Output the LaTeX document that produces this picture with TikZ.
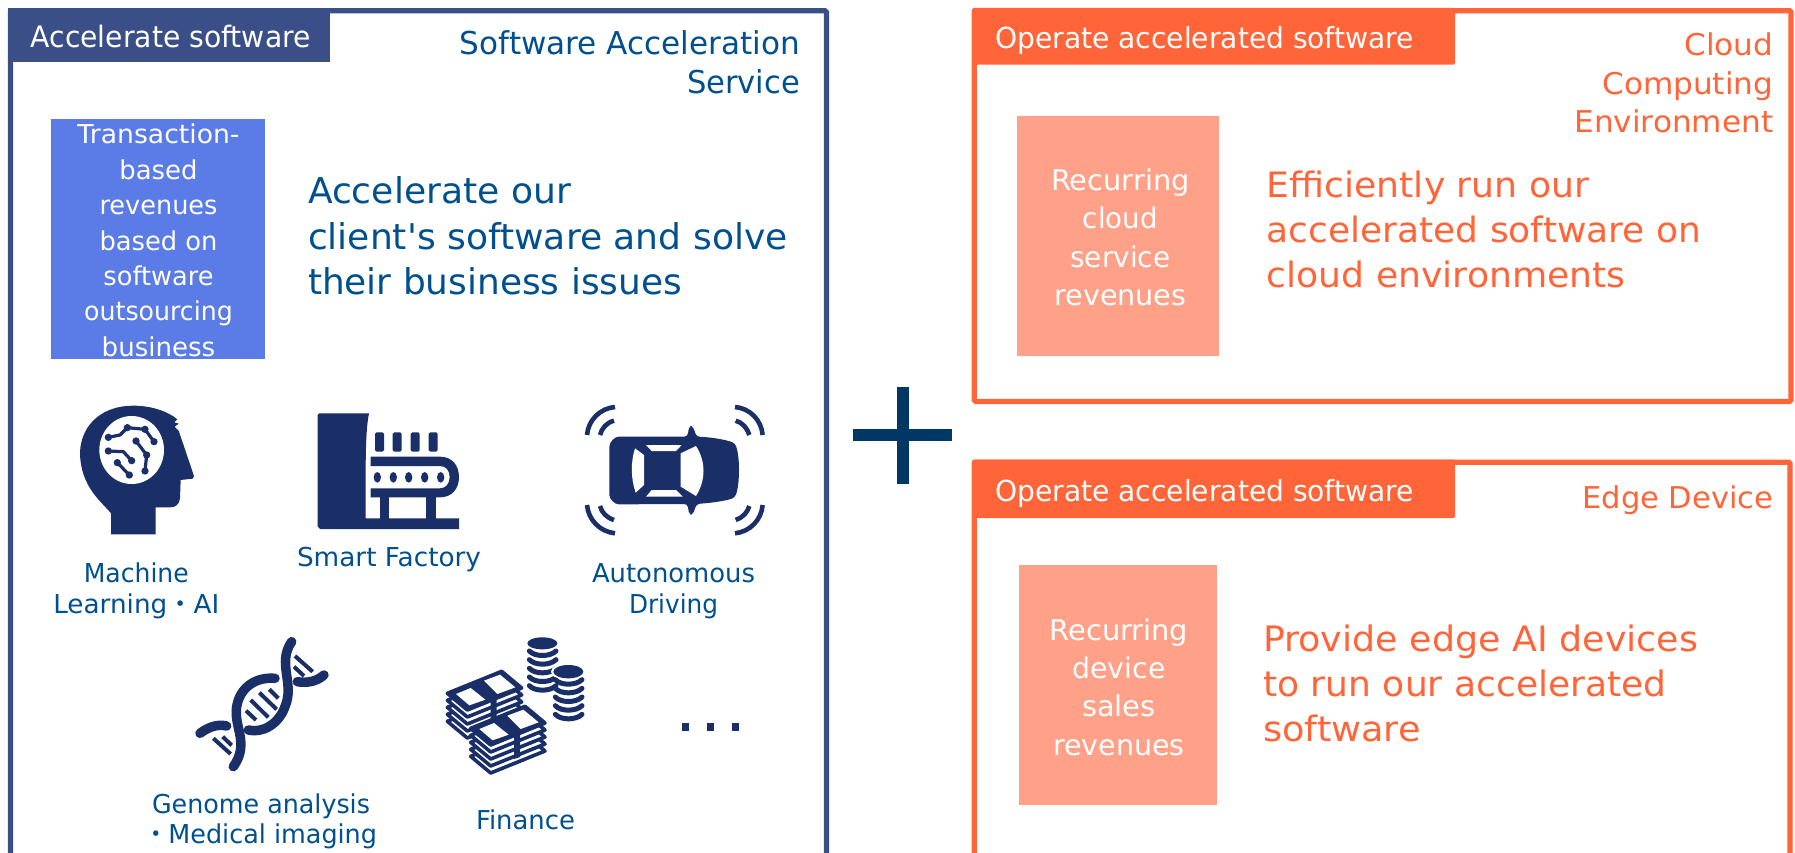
\documentclass[tikz,border=0pt]{standalone}
\usepackage{graphicx}
\usepackage{fontspec}
\setmainfont{DejaVu Sans}[Ligatures=TeXOff]
\newfontfamily\cjkdot{Noto Sans CJK JP}
\definecolor{navy}{HTML}{3A4E87}
\definecolor{royal}{HTML}{5B7BE6}
\definecolor{ink}{HTML}{00508F}
\definecolor{iconc}{HTML}{1A2F68}
\definecolor{orng}{HTML}{FF6539}
\definecolor{peach}{HTML}{FFA088}
\definecolor{plusc}{HTML}{003865}
\newcommand\fitw[2]{\resizebox{#1pt}{\height}{#2}}
\newcommand\fs[2]{\fontsize{#1pt}{#2pt}\selectfont}
\newcommand\rows[2]{\begin{tabular}[t]{@{}#1@{}}#2\end{tabular}}
\tikzset{
  txt/.style={inner sep=0pt,outer sep=0pt},
  frameline/.style={line width=5.2pt,rounded corners=1.5pt},
  arcw/.style={draw=iconc,line width=4.6pt,line cap=butt},
  strand/.style={draw=iconc,line width=9.5pt,line cap=round},
  rung/.style={draw=iconc,line width=4pt,line cap=butt},
  coinb/.style={draw=iconc,line width=5pt,line cap=round},
  billedge/.style={fill=white,draw=iconc,line width=3.6pt,line join=round},
  iconscope/.style={x=0.33333pt,y=-0.33333pt}
}
\newcommand\billstack[2]{%
 \begin{scope}[shift={(#1,#2)}]
  \foreach \d in {84,63,42,21}{
    \draw[billedge] (0,\d)--(163,\d-66)--(223,\d-16)--(60,\d+50)--cycle;
  }
  \draw[billedge,fill=iconc] (0,0)--(163,-66)--(223,-16)--(60,50)--cycle;
  \fill[white] (26,2)--(70,-16)--(114,19)--(66,36)--cycle;
  \fill[white] (110,-38)--(158,-56)--(204,-18)--(150,2)--cycle;
  \fill[iconc] (78,-34)--(96,-42)--(148,6)--(148,86)--(130,92)--(130,14)--cycle;
 \end{scope}}
\begin{document}
\begin{tikzpicture}[x=1pt,y=-1pt]
\useasboundingbox (0,0) rectangle (1795,853);
\clip (0,0) rectangle (1795,853);
\fill[white] (0,0) rectangle (1795,853);
% ---- left frame
\draw[frameline,draw=navy] (10.4,880)--(10.4,10.7)--(826.5,10.7)--(826.5,880);
\fill[navy] (8,8) rectangle (330,61.7);
\node[txt,anchor=base west,text=white,font=\fs{29.5}{36}] (hacc) at (30.7,47.7) {\fitw{280}{Accelerate software}};
\node[txt,anchor=base east,text=ink,font=\fs{31.5}{39}] (tsvc) at (800,54.3) {\rows{r}{\fitw{340}{Software Acceleration}\\\fitw{113}{Service}}};
\fill[royal] (50.8,119) rectangle (265,359);
\node[txt,anchor=base,text=white,font=\fs{26}{35.4}] (rtx) at (158.5,144) {\rows{c}{\fitw{162}{Transaction-}\\\fitw{78}{based}\\\fitw{118}{revenues}\\\fitw{118}{based on}\\\fitw{110}{software}\\\fitw{148.5}{outsourcing}\\\fitw{113.6}{business}}};
\node[txt,anchor=base west,text=ink,font=\fs{35.5}{45.8}] (dacc) at (308,203.3) {\rows{l}{\fitw{263}{Accelerate our}\\\fitw{479.6}{client's software and solve}\\\fitw{374}{their business issues}}};
% ---- head icon
\begin{scope}[shift={(40,390)},iconscope]
 \fill[iconc] (213,433)--(213,370) .. controls (185,335) and (120,290) .. (120,185)
   .. controls (125,100) and (190,47) .. (280,47)
   .. controls (335,47) and (385,65) .. (412,88)
   --(403,97)--(416,101)--(404,110)--(416,122)--(462,258)--(458,266)--(422,270)
   --(420,325) .. controls (418,345) and (405,352) .. (390,352) --(347,352)--(347,433)--cycle;
 \fill[white] (275,180) ellipse [x radius=97,y radius=102];
 \draw[iconc,line width=3.2pt,line join=round] (205,142)--(240,135)--(262,113)--(315,118)--(342,155);
 \draw[iconc,line width=3.2pt,line join=round] (205,183)--(250,185)--(275,212);
 \draw[iconc,line width=3.2pt,line join=round] (288,153)--(320,195)--(315,243);
 \draw[iconc,line width=3.2pt] (232,218)--(268,255);
 \foreach \p in {(205,142),(262,113),(315,118),(342,155),(205,183),(275,212),(288,153),(320,195),(315,243),(232,218),(268,255)}
   \fill[iconc] \p circle (11);
\end{scope}
% ---- factory icon
\begin{scope}[shift={(300,400)},iconscope]
 \fill[iconc] (58,40)--(207,40) .. controls (195,100) and (197,200) .. (197,355)--(477,355)--(477,387)--(60,387)--(53,380)--(53,45)--cycle;
 \fill[iconc] (240,285) rectangle (268,358);
 \fill[iconc] (378,285) rectangle (408,358);
 \fill[iconc] (212,170)--(420,170) .. controls (455,170) and (477,195) .. (477,231) .. controls (477,267) and (455,292) .. (420,292)--(212,292)--(212,265)--(420,265) .. controls (438,265) and (449,250) .. (449,231) .. controls (449,212) and (438,198) .. (420,198)--(212,198)--cycle;
 \foreach \x in {232,280,326,374,422} \fill[iconc] (\x,232) ellipse [x radius=11,y radius=16];
 \foreach \x in {225,278,332,386} \fill[iconc,rounded corners=1.5pt] (\x,97) rectangle (\x+27,155);
\end{scope}
% ---- car icon
\begin{scope}[shift={(570,390)},iconscope]
 \fill[iconc,rounded corners=3pt] (118,180) .. controls (118,155) and (135,140) .. (155,140)--(352,140)--(358,108)--(368,108)--(380,140) .. controls (430,142) and (470,150) .. (495,160) .. controls (510,200) and (510,280) .. (495,322) .. controls (470,332) and (430,338) .. (380,342)--(368,374)--(358,374)--(352,342)--(155,343) .. controls (135,343) and (118,328) .. (118,305)--cycle;
 \fill[white] (195,175)--(222,195)--(222,285)--(197,308) .. controls (182,265) and (182,215) .. (195,175)--cycle;
 \fill[white] (332,190)--(378,168) .. controls (408,215) and (408,270) .. (378,318)--(332,290)--cycle;
 \fill[white] (228,165)--(335,165)--(318,183)--(245,183)--cycle;
 \fill[white] (228,320)--(338,320)--(318,300)--(245,300)--cycle;
 \draw[arcw] (51,135) .. controls (55,90) and (90,55) .. (135,51);
 \draw[arcw] (90,135) .. controls (95,115) and (110,98) .. (132,92);
 \draw[arcw] (578,135) .. controls (574,90) and (540,55) .. (495,51);
 \draw[arcw] (538,135) .. controls (532,115) and (518,98) .. (497,92);
 \draw[arcw] (51,345) .. controls (55,390) and (90,425) .. (135,430);
 \draw[arcw] (90,348) .. controls (95,368) and (110,383) .. (132,390);
 \draw[arcw] (578,345) .. controls (574,390) and (540,425) .. (495,430);
 \draw[arcw] (538,348) .. controls (532,368) and (518,383) .. (497,390);
\end{scope}
% ---- dna icon
\begin{scope}[shift={(180,620)},iconscope]
 \draw[strand] (335,65) .. controls (290,130) and (345,190) .. (315,260) .. controls (295,315) and (245,340) .. (205,330);
 \draw[strand] (432,165) .. controls (410,185) and (380,190) .. (352,185);
 \draw[strand] (285,175) .. controls (230,170) and (180,200) .. (170,260) .. controls (160,320) and (210,370) .. (160,440);
 \draw[strand] (140,318) .. controls (110,310) and (80,325) .. (60,340);
 \draw[rung] (345,108)--(398,155);
 \draw[rung] (342,140)--(372,168);
 \draw[rung] (268,208)--(295,235);
 \draw[rung] (238,218)--(290,268);
 \draw[rung] (212,240)--(265,292);
 \draw[rung] (198,272)--(228,300);
 \draw[rung] (100,355)--(152,402);
 \draw[rung] (128,350)--(155,376);
\end{scope}
% ---- finance icon
\begin{scope}[shift={(430,625)},iconscope]
 \billstack{52}{205}
 \billstack{122}{310}
 \fill[iconc] (337,55) ellipse [x radius=45,y radius=18];
 \foreach \y in {78,104,130,156,182}
   \draw[coinb] (298,\y) .. controls (315,\y+18) and (360,\y+18) .. (378,\y);
 \fill[white] (415,140) ellipse [x radius=52,y radius=26];
 \fill[iconc] (415,140) ellipse [x radius=45,y radius=20];
 \foreach \y in {164,190,216,242,268}
   \draw[coinb] (376,\y) .. controls (392,\y+18) and (438,\y+18) .. (456,\y);
\end{scope}
% ---- left labels
\node[txt,anchor=base,text=ink,font=\fs{26}{31}] (lml) at (136.3,582.3) {\rows{c}{\fitw{105}{Machine}\\\fitw{166}{Learning{\cjkdot ・}AI}}};
\node[txt,anchor=base west,text=ink,font=\fs{26}{31}] (lsf) at (297,566.7) {\fitw{184}{Smart Factory}};
\node[txt,anchor=base,text=ink,font=\fs{26}{31}] (lad) at (673.5,582.3) {\rows{c}{\fitw{163}{Autonomous}\\\fitw{89}{Driving}}};
\node[txt,anchor=base west,text=ink,font=\fs{26}{30}] (lga) at (152,813.3) {\rows{l}{\fitw{218}{Genome analysis}\\\hspace*{-9pt}\fitw{234}{{\cjkdot ・}Medical imaging}}};
\node[txt,anchor=base west,text=ink,font=\fs{26}{31}] (lfi) at (476,829.3) {\fitw{99}{Finance}};
\foreach \x in {685,710,735} \fill[iconc] (\x-3.5,722.7) rectangle (\x+3.5,730.7);
% ---- plus
\fill[plusc] (853.4,429) rectangle (952,440.7);
\fill[plusc] (896.6,386.8) rectangle (909,483.7);
% ---- right top
\draw[frameline,draw=orng] (974.3,10.7) rectangle (1791,401.5);
\fill[orng,rounded corners=1.5pt] (972,8) rectangle (1455,64.7);
\node[txt,anchor=base west,text=white,font=\fs{29}{36}] (hop1) at (995.5,49) {\fitw{418.3}{Operate accelerated software}};
\node[txt,anchor=base east,text=orng,font=\fs{30}{38.6}] (tcc) at (1773.3,55.6) {\rows{r}{\fitw{89}{Cloud}\\\fitw{171}{Computing}\\\fitw{199}{Environment}}};
\fill[peach] (1017.4,115.9) rectangle (1219,355.8);
\node[txt,anchor=base,text=white,font=\fs{28.5}{38.4}] (rc1) at (1120.4,190.5) {\rows{c}{\fitw{138.5}{Recurring}\\\fitw{75}{cloud}\\\fitw{100}{service}\\\fitw{132}{revenues}}};
\node[txt,anchor=base west,text=orng,font=\fs{35}{45.2}] (de1) at (1266.6,197.6) {\rows{l}{\fitw{322.6}{Efficiently run our}\\\fitw{434.6}{accelerated software on}\\\fitw{359}{cloud environments}}};
% ---- right bottom
\draw[frameline,draw=orng] (974.3,880)--(974.3,462.2)--(1790,462.2)--(1790,880);
\fill[orng,rounded corners=1.5pt] (972,459.7) rectangle (1455,518);
\node[txt,anchor=base west,text=white,font=\fs{29}{36}] (hop2) at (995.5,501.7) {\fitw{418.3}{Operate accelerated software}};
\node[txt,anchor=base east,text=orng,font=\fs{30}{38.6}] (ted) at (1773.3,508) {\fitw{191}{Edge Device}};
\fill[peach] (1019,565.3) rectangle (1217,805.2);
\node[txt,anchor=base,text=white,font=\fs{28.5}{38.4}] (rc2) at (1119,640) {\rows{c}{\fitw{138.5}{Recurring}\\\fitw{93}{device}\\\fitw{73.5}{sales}\\\fitw{131.5}{revenues}}};
\node[txt,anchor=base west,text=orng,font=\fs{35}{45.2}] (de2) at (1263.2,651) {\rows{l}{\fitw{434.8}{Provide edge AI devices}\\\fitw{403.5}{to run our accelerated}\\\fitw{157.5}{software}}};
\end{tikzpicture}
\end{document}
